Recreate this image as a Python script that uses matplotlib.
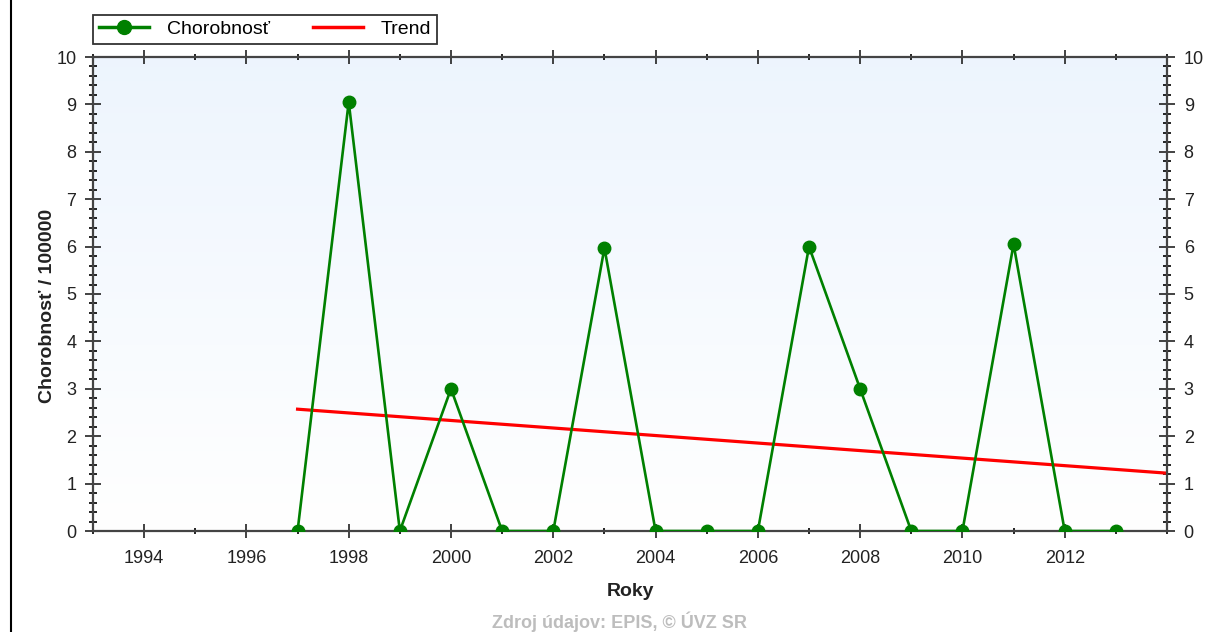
import matplotlib
matplotlib.use("Agg")
import matplotlib.pyplot as plt
import numpy as np
from matplotlib.ticker import MultipleLocator, FixedLocator
from matplotlib.lines import Line2D

years = [1997, 1998, 1999, 2000, 2001, 2002, 2003, 2004, 2005, 2006,
         2007, 2008, 2009, 2010, 2011, 2012, 2013]
morbidity = [0, 9.05, 0, 3.0, 0, 0, 5.97, 0, 0, 0,
             6.0, 3.0, 0, 0, 6.05, 0, 0]
trend_x = [1997, 2014]
trend_y = [2.57, 1.22]
xtick_years = [1994, 1996, 1998, 2000, 2002, 2004, 2006, 2008, 2010, 2012]

FONT = ['Liberation Sans', 'DejaVu Sans']

fig = plt.figure(figsize=(12.17, 6.32), dpi=100)
ax = fig.add_axes([93/1217, 101/632, (1167-93)/1217, (531-57)/632])

# gradient background
grad = np.linspace(0, 1, 256).reshape(-1, 1)
top = np.array([0.93, 0.96, 0.995])
bot = np.array([1.0, 1.0, 1.0])
img = top[None, None, :] * (1 - grad[:, :, None]) + bot[None, None, :] * grad[:, :, None]
ax.imshow(img, extent=[0, 1, 0, 1], transform=ax.transAxes, aspect='auto', zorder=0)

ax.plot(trend_x, trend_y, color='#ff0000', lw=2.3, zorder=2)
ax.plot(years, morbidity, color='#008000', lw=1.9, marker='o', markersize=9,
        zorder=3, clip_on=True)

ax.set_xlim(1993, 2014)
ax.set_ylim(0, 10)
ax.xaxis.set_major_locator(FixedLocator(xtick_years))
ax.xaxis.set_minor_locator(MultipleLocator(1))
ax.yaxis.set_major_locator(MultipleLocator(1))
ax.yaxis.set_minor_locator(MultipleLocator(0.2))

ax.tick_params(axis='x', which='major', direction='inout', length=10, width=1.2,
               top=True, bottom=True, labelsize=13, pad=9, colors='#222222')
ax.tick_params(axis='x', which='minor', direction='inout', length=5, width=1.2,
               top=True, bottom=True)
ax.tick_params(axis='y', which='major', direction='inout', length=12, width=1.2,
               left=True, right=True, labelleft=True, labelright=True,
               labelsize=13, pad=6, colors='#222222')
ax.tick_params(axis='y', which='minor', direction='inout', length=6, width=1.2,
               left=True, right=True)
for lab in ax.get_xticklabels() + ax.get_yticklabels():
    lab.set_family(FONT)

for sp in ax.spines.values():
    sp.set_color('#444444')
    sp.set_linewidth(1.6)

ax.set_xlabel('Roky', fontsize=14, fontweight='bold', family=FONT,
              color='#222222', labelpad=11)
ax.set_ylabel('Chorobnosť / 100000', fontsize=14, fontweight='bold',
              family=FONT, color='#222222')
ax.yaxis.set_label_coords(-37/1074, 0.475)

# legend
handles = [Line2D([], [], color='#008000', lw=2.5, marker='o', markersize=10),
           Line2D([], [], color='#ff0000', lw=2.5)]
leg = fig.legend(handles, ['Chorobnosť', 'Trend'], loc='lower left',
                 bbox_to_anchor=(93/1217, (632-44)/632), ncol=2, frameon=True,
                 fancybox=False, edgecolor='black', borderpad=0.3,
                 borderaxespad=0.0,
                 handlelength=2.6, columnspacing=2.2, handletextpad=0.9,
                 prop={'family': FONT, 'size': 14})
leg.get_frame().set_linewidth(1.3)

fig.text(620/1217, 1 - 622/632, 'Zdroj údajov: EPIS, © ÚVZ SR', ha='center',
         va='center', fontsize=13, fontweight='bold', color='#bdbdbd', family=FONT)

fig.add_artist(Line2D([10.5/1217, 10.5/1217], [0, 1], color='black', lw=1.5,
                      transform=fig.transFigure))

fig.savefig('out.png', dpi=100)
